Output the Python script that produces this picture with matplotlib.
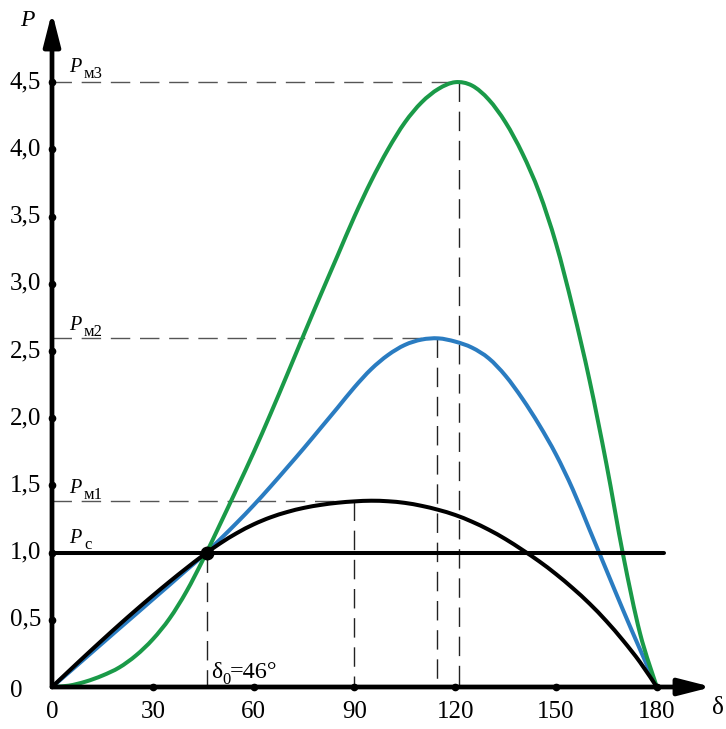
import matplotlib
matplotlib.use('Agg')
import matplotlib.pyplot as plt
from matplotlib.path import Path
from matplotlib.patches import PathPatch

# ---------------- data ----------------
delta = [0, 5, 10, 15, 20, 25, 30, 35, 40, 45, 50, 55, 60, 65, 70, 75, 80, 85, 90,
         95, 100, 105, 110, 115, 120, 125, 130, 135, 140, 145, 150, 155, 160, 165,
         170, 175, 180]
p_black = [0, 0.118, 0.235, 0.35, 0.463, 0.573, 0.68, 0.784, 0.884, 0.98, 1.068,
           1.145, 1.21, 1.262, 1.302, 1.333, 1.355, 1.371, 1.381, 1.386, 1.382,
           1.37, 1.348, 1.318, 1.28, 1.23, 1.17, 1.10, 1.02, 0.935, 0.84, 0.735,
           0.62, 0.49, 0.345, 0.185, 0]
p_blue = [0, 0.108, 0.217, 0.326, 0.435, 0.543, 0.652, 0.76, 0.87, 0.978, 1.098,
          1.222, 1.352, 1.49, 1.633, 1.778, 1.928, 2.078, 2.23, 2.365, 2.47, 2.545,
          2.585, 2.594, 2.57, 2.525, 2.445, 2.315, 2.145, 1.95, 1.73, 1.47, 1.17,
          0.87, 0.57, 0.28, 0]
p_green = [0, 0.01, 0.04, 0.085, 0.145, 0.235, 0.355, 0.51, 0.71, 0.95, 1.21, 1.475,
           1.745, 2.03, 2.325, 2.625, 2.92, 3.21, 3.5, 3.765, 4.0, 4.2, 4.35, 4.45,
           4.5, 4.475, 4.37, 4.2, 3.97, 3.68, 3.3, 2.82, 2.28, 1.66, 0.98, 0.40, 0]

x_ticks = [30, 60, 90, 120, 150, 180]
x_tick_labels = ['30', '60', '90', '120', '150', '180']
y_ticks = [0.5, 1.0, 1.5, 2.0, 2.5, 3.0, 3.5, 4.0, 4.5]
y_tick_labels = ['0,5', '1,0', '1,5', '2,0', '2,5', '3,0', '3,5', '4,0', '4,5']

p_c = 1.0
p_c_end = 182
delta0 = 46
pm1, pm1_delta = 1.384, 90
pm2, pm2_delta = 2.594, 114.5
pm3, pm3_delta = 4.5, 121

# ---------------- figure ----------------
W, H = 726, 729
fig = plt.figure(figsize=(W / 100, H / 100), dpi=100)
sx = 3.36      # px per degree
sy = 134.4     # px per unit P
x0px, y0px = 52, 687
xmax, ymax = 200, 5.05
ax = fig.add_axes([x0px / W, (H - y0px) / H, xmax * sx / W, ymax * sy / H])
ax.set_xlim(0, xmax)
ax.set_ylim(0, ymax)
ax.axis('off')

serif = 'Liberation Serif'
blue_col = '#2a7cc1'
green_col = '#1a9a48'
dash_h = '#555555'
dash_v = '#222222'


def smooth_curve(xs, ys, color):
    """Draw a smooth (Catmull-Rom as cubic Bezier) curve through the points."""
    n = len(xs)
    pts = list(zip(xs, ys))
    verts = [pts[0]]
    codes = [Path.MOVETO]
    for i in range(n - 1):
        p0 = pts[i - 1] if i > 0 else pts[i]
        p1 = pts[i]
        p2 = pts[i + 1]
        p3 = pts[i + 2] if i + 2 < n else pts[i + 1]
        c1 = (p1[0] + (p2[0] - p0[0]) / 6, p1[1] + (p2[1] - p0[1]) / 6)
        c2 = (p2[0] - (p3[0] - p1[0]) / 6, p2[1] - (p3[1] - p1[1]) / 6)
        verts += [c1, c2, p2]
        codes += [Path.CURVE4] * 3
    patch = PathPatch(Path(verts, codes), fill=False, edgecolor=color, lw=2.9,
                      joinstyle='round', capstyle='round', clip_on=False, zorder=3)
    ax.add_patch(patch)


# dashed reference lines
dkw = dict(lw=1.0, dashes=(14, 7), clip_on=False, zorder=1)
ax.plot([0, pm3_delta], [pm3, pm3], color=dash_h, **dkw)
ax.plot([pm3_delta, pm3_delta], [pm3, 0], color=dash_v, **dkw)
ax.plot([0, pm2_delta], [pm2, pm2], color=dash_h, **dkw)
ax.plot([pm2_delta, pm2_delta], [pm2, 0], color=dash_v, **dkw)
ax.plot([0, pm1_delta], [pm1, pm1], color=dash_h, **dkw)
ax.plot([pm1_delta, pm1_delta], [pm1, 0], color=dash_v, **dkw)
ax.plot([delta0, delta0], [p_c, 0], color=dash_v, **dkw)

# curves
smooth_curve(delta, p_blue, blue_col)
smooth_curve(delta, p_green, green_col)
smooth_curve(delta, p_black, 'k')
ax.plot([0, p_c_end], [p_c, p_c], color='k', lw=2.9, solid_capstyle='round', clip_on=False, zorder=3)
ax.plot([delta0], [p_c], 'o', color='k', ms=9, clip_on=False, zorder=5)

# axes with arrows
akw = dict(arrowstyle='-|>,head_length=0.55,head_width=0.14', mutation_scale=36,
           lw=3.4, color='k', shrinkA=0, shrinkB=0)
ax.annotate('', xy=(0, (y0px - 12) / sy), xytext=(0, 0), arrowprops=akw, annotation_clip=False, zorder=4)
ax.annotate('', xy=((712 - x0px) / sx, 0), xytext=(0, 0), arrowprops=akw, annotation_clip=False, zorder=4)

# tick dots
ax.plot(x_ticks, [0] * len(x_ticks), 'o', color='k', ms=4.5, clip_on=False, zorder=5)
ax.plot([0] * len(y_ticks), y_ticks, 'o', color='k', ms=4.5, clip_on=False, zorder=5)


def ftext(xp, yp, s, **kw):
    fig.text(xp / W, 1 - yp / H, s, **kw)


tick_fs = 18
for v, lab in zip(y_ticks, y_tick_labels):
    ftext(10, y0px - v * sy, lab, ha='left', va='center', family=serif, fontsize=tick_fs)
ftext(10, 691, '0', ha='left', va='center', family=serif, fontsize=tick_fs)
ftext(x0px, 712, '0', ha='center', va='center', family=serif, fontsize=tick_fs)
for v, lab in zip(x_ticks, x_tick_labels):
    ftext(x0px + v * sx, 712, lab, ha='center', va='center', family=serif, fontsize=tick_fs)

ftext(27, 20, 'P', ha='center', va='center', family=serif, style='italic', fontsize=17)
ftext(718, 708, 'δ', ha='center', va='center', family=serif, fontsize=18)


# P labels
def plabel(yb, sub):
    ftext(69, yb, 'P', ha='left', va='baseline', family=serif, style='italic', fontsize=14.5)
    ftext(84, yb + 6, sub, ha='left', va='baseline', family=serif, fontsize=12)


plabel(72, 'м3')
plabel(330, 'м2')
plabel(493, 'м1')
plabel(543, 'c')

ftext(211, 678, 'δ', ha='left', va='baseline', family=serif, fontsize=17)
ftext(222, 684, '0', ha='left', va='baseline', family=serif, fontsize=12)
ftext(230, 678, '=46°', ha='left', va='baseline', family=serif, fontsize=17.5)

fig.savefig('out.png', dpi=100, facecolor='white')
